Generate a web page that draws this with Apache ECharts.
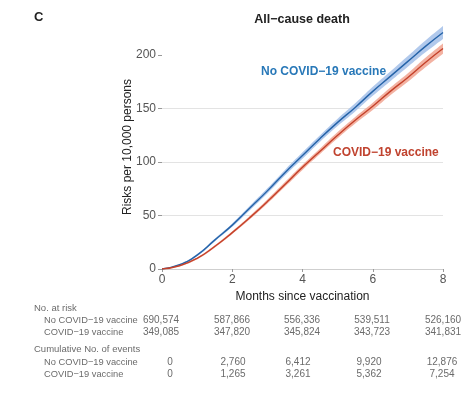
<!DOCTYPE html>
<html>
<head>
<meta charset="utf-8">
<script src="https://cdn.jsdelivr.net/npm/echarts@6/dist/echarts.min.js"></script>
<style>
  html,body{margin:0;padding:0;background:#fff;}
  #chart{width:472px;height:417px;}
</style>
</head>
<body>
<div id="chart"></div>
<script>
// months since vaccination
var months = ['0','0.5','1','1.5','2','2.5','3','3.5','4','4.5','5','5.5','6','6.5','7','7.5','8'];
// No COVID-19 vaccine: risk per 10,000 and 95% band
var noVax   = [0,4,13,27,41,57,73,90,106,122,137,151,166,180,194,208,221];
var noVaxLo = [0,3.5,12,25.7,39.4,55,70.6,87.4,103,119,133.6,147.2,161.8,175.5,189,202.5,215];
var noVaxHi = [0,4.5,14,28.3,42.6,59,75.4,92.6,109,125,140.4,154.8,170.2,184.5,199,213.5,227];
// COVID-19 vaccine
var vax   = [0,3,10,21,34,48,63,79,95,110,125,139,152,166,179,193,206];
var vaxLo = [0,2.6,9.2,19.9,32.7,46.4,61.1,76.8,92.6,107.4,122.1,135.9,148.6,162.4,175,188.6,201.2];
var vaxHi = [0,3.4,10.8,22.1,35.3,49.6,64.9,81.2,97.4,112.6,127.9,142.1,155.4,169.6,183,197.4,210.8];

var yTicks = [0,50,100,150,200];

// risk table under the plot
var atRiskNoVax = ['690,574','587,866','556,336','539,511','526,160'];
var atRiskVax   = ['349,085','347,820','345,824','343,723','341,831'];
var eventsNoVax = ['0','2,760','6,412','9,920','12,876'];
var eventsVax   = ['0','1,265','3,261','5,362','7,254'];
var atRiskX = [161,232,302,372,443];   // column centres (px)
var eventsX = [170,233,298,369,442];

function diff(hi,lo){
  var out=[];
  for(var i=0;i<hi.length;i++){ out.push(+(hi[i]-lo[i]).toFixed(2)); }
  return out;
}

var FONT = '"Liberation Sans", Arial, sans-serif';
var tableColor = '#6b6b6b';

var graphics = [
  {type:'text',left:34,top:11,style:{text:'C',font:'bold 13px '+FONT,fill:'#222'}},
  {type:'text',x:302,y:20,style:{text:'All\u2212cause death',font:'bold 12.5px '+FONT,fill:'#222',textAlign:'center',textVerticalAlign:'middle'}},
  {type:'text',x:261,y:72,style:{text:'No COVID\u221219 vaccine',font:'bold 12px '+FONT,fill:'#2878b8',textVerticalAlign:'middle'}},
  {type:'text',x:333,y:153,style:{text:'COVID\u221219 vaccine',font:'bold 12px '+FONT,fill:'#c0432f',textVerticalAlign:'middle'}},
  {type:'text',x:34,y:308,style:{text:'No. at risk',font:'9.5px '+FONT,fill:tableColor,textVerticalAlign:'middle'}},
  {type:'text',x:44,y:320,style:{text:'No COVID\u221219 vaccine',font:'9.3px '+FONT,fill:tableColor,textVerticalAlign:'middle'}},
  {type:'text',x:44,y:332,style:{text:'COVID\u221219 vaccine',font:'9.3px '+FONT,fill:tableColor,textVerticalAlign:'middle'}},
  {type:'text',x:34,y:349,style:{text:'Cumulative No. of events',font:'9.5px '+FONT,fill:tableColor,textVerticalAlign:'middle'}},
  {type:'text',x:44,y:362,style:{text:'No COVID\u221219 vaccine',font:'9.3px '+FONT,fill:tableColor,textVerticalAlign:'middle'}},
  {type:'text',x:44,y:374,style:{text:'COVID\u221219 vaccine',font:'9.3px '+FONT,fill:tableColor,textVerticalAlign:'middle'}}
];
function addRow(vals,xs,y){
  for(var i=0;i<vals.length;i++){
    graphics.push({type:'text',x:xs[i],y:y,style:{text:vals[i],font:'10px '+FONT,fill:tableColor,textAlign:'center',textVerticalAlign:'middle'}});
  }
}
addRow(atRiskNoVax,atRiskX,320);
addRow(atRiskVax,atRiskX,332);
addRow(eventsNoVax,eventsX,362);
addRow(eventsVax,eventsX,374);

var chart = echarts.init(document.getElementById('chart'));
chart.setOption({
  animation:false,
  backgroundColor:'#fff',
  textStyle:{fontFamily:FONT},
  grid:{left:162,right:29,top:25,bottom:148},
  xAxis:{
    type:'category',data:months,boundaryGap:false,
    name:'Months since vaccination',nameLocation:'middle',nameGap:21,
    nameTextStyle:{color:'#222',fontSize:12},
    axisLine:{show:true,lineStyle:{color:'#cfcfcf',width:1}},
    axisTick:{show:true,length:3,interval:3,lineStyle:{color:'#999'}},
    axisLabel:{color:'#555',fontSize:12,margin:5,interval:3},
    splitLine:{show:false}
  },
  yAxis:{
    type:'value',min:0,max:228,
    name:'Risks per 10,000 persons',nameLocation:'middle',nameGap:28,nameRotate:90,
    nameMoveOverlap:false,
    nameTextStyle:{color:'#222',fontSize:12},
    axisLine:{show:false},
    axisTick:{show:true,length:4,customValues:yTicks,lineStyle:{color:'#999'}},
    axisLabel:{color:'#555',fontSize:12,margin:6,customValues:yTicks},
    splitLine:{show:true,showMaxLine:false,lineStyle:{color:'#e3e3e3',width:1}}
  },
  graphic:graphics,
  series:[
    {name:'noVaxLo',type:'line',stack:'nb',smooth:true,symbol:'none',data:noVaxLo,lineStyle:{opacity:0},silent:true},
    {name:'noVaxBand',type:'line',stack:'nb',smooth:true,symbol:'none',data:diff(noVaxHi,noVaxLo),lineStyle:{opacity:0},areaStyle:{color:'#a8c3ea',opacity:0.9},silent:true},
    {name:'vaxLo',type:'line',stack:'vb',smooth:true,symbol:'none',data:vaxLo,lineStyle:{opacity:0},silent:true},
    {name:'vaxBand',type:'line',stack:'vb',smooth:true,symbol:'none',data:diff(vaxHi,vaxLo),lineStyle:{opacity:0},areaStyle:{color:'#f2aa98',opacity:0.9},silent:true},
    {name:'No COVID-19 vaccine',type:'line',smooth:true,symbol:'none',data:noVax,lineStyle:{color:'#2563a8',width:1.4}},
    {name:'COVID-19 vaccine',type:'line',smooth:true,symbol:'none',data:vax,lineStyle:{color:'#c4412a',width:1.4}}
  ]
});
</script>
</body>
</html>
